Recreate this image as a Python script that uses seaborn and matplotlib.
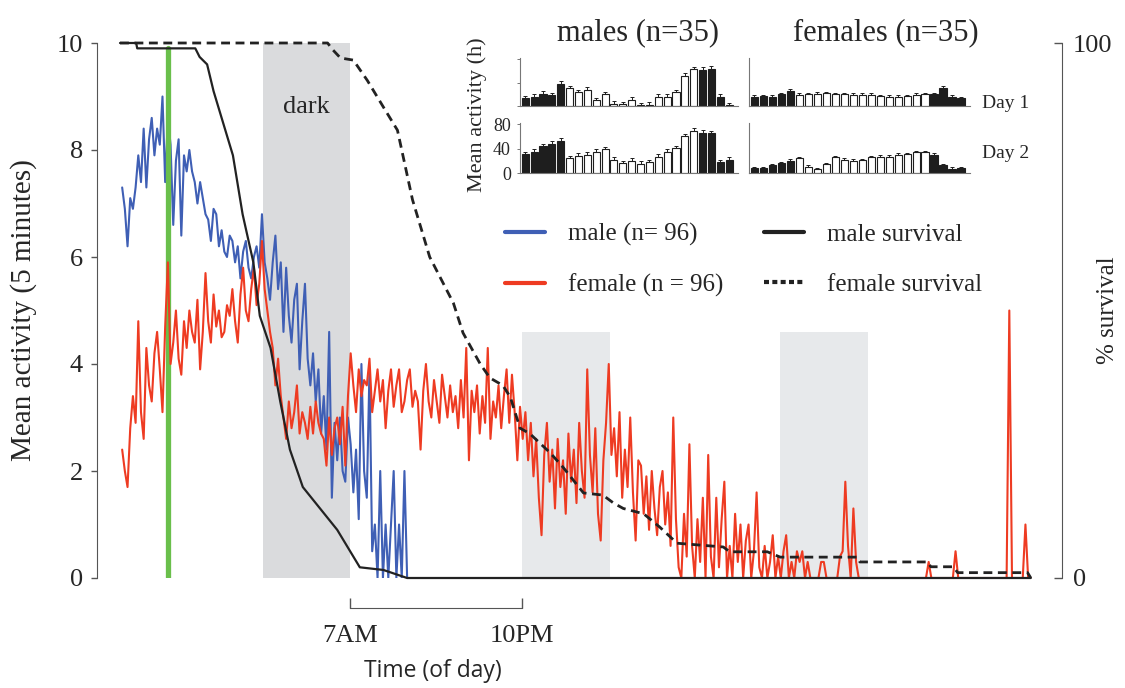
import numpy as np
import pandas as pd
import seaborn as sns
import matplotlib.pyplot as plt
from matplotlib.lines import Line2D

# ---- data ----
# mean activity per 5-min bin, one reading every 15 min, hours since start
start_h = 0.2
step_h = 0.25

male_activity = [
    7.3, 6.9, 6.2, 7.1, 6.9, 7.3, 7.9, 7.4, 8.4, 7.3,
    8.2, 8.6, 7.9, 8.4, 8.1, 9.0, 7.4, 8.6, 8.1, 6.6,
    7.8, 8.2, 6.4, 7.9, 7.6, 8.0, 7.6, 7.4, 7.0, 7.4,
    7.1, 6.8, 6.7, 6.3, 6.9, 6.8, 6.2, 6.5, 6.1, 6.0,
    6.4, 6.3, 5.9, 6.2, 5.6, 6.1, 6.3, 5.8, 5.6, 6.0,
    6.2, 5.8, 6.8, 5.9, 5.6, 5.2, 5.9, 6.4, 5.4, 5.9,
    4.6, 5.8, 4.9, 4.4, 5.2, 5.5, 3.9, 4.8, 5.5, 4.1,
    3.6, 4.2, 3.3, 3.9, 2.7, 3.4, 2.4, 4.6, 1.5, 2.9,
    2.2, 3.0, 2.0, 1.8, 3.0, 2.5, 1.6, 2.4, 1.1, 4.0,
    2.0, 1.5, 3.9, 0.5, 1.0, 0.0, 2.0, 0.0, 1.0, 0.0,
    1.0, 2.0, 0.0, 1.0, 0.0, 2.0, 0.0,
]

female_activity = [
    2.4, 2.0, 1.7, 2.8, 3.4, 2.9, 4.8, 3.1, 2.6, 4.3,
    3.6, 3.3, 4.2, 4.6, 3.9, 3.1, 4.7, 5.9, 4.0, 4.4,
    5.0, 4.1, 3.8, 4.8, 4.3, 5.0, 4.6, 4.4, 5.2, 3.9,
    4.6, 5.7, 4.8, 4.4, 5.3, 4.7, 5.0, 4.5, 4.6, 5.1,
    4.9, 5.4, 4.8, 4.4, 5.3, 5.8, 5.0, 4.8, 5.4, 5.8,
    5.1, 5.5, 6.3, 5.4, 5.0, 4.6, 4.3, 3.6, 4.1, 3.4,
    3.0, 2.6, 3.3, 2.8, 3.1, 3.6, 2.7, 3.1, 2.9, 2.6,
    3.2, 2.7, 3.3, 2.9, 2.7, 2.6, 2.1, 3.0, 2.3, 2.8,
    3.0, 2.5, 3.2, 2.1, 3.4, 4.2, 3.6, 3.1, 3.9, 3.4,
    3.7, 3.6, 4.1, 3.1, 3.5, 3.9, 3.3, 3.7, 2.8, 3.5,
    3.9, 3.2, 3.6, 3.9, 3.1, 3.3, 3.7, 3.9, 3.2, 3.5,
    3.3, 2.4, 3.5, 4.0, 3.3, 3.0, 3.7, 3.3, 2.9, 3.8,
    3.4, 3.0, 3.6, 3.1, 3.4, 2.8, 3.7, 3.0, 4.3, 2.2,
    3.5, 3.1, 3.6, 2.7, 3.4, 2.9, 4.3, 2.6, 3.3, 3.0,
    3.6, 2.8, 3.4, 3.9, 2.9, 3.8, 3.1, 2.2, 3.2, 2.6,
    3.1, 2.2, 2.9, 1.9, 2.6, 1.5, 0.8, 2.3, 2.9, 1.8,
    2.4, 1.3, 2.6, 1.7, 2.2, 1.2, 2.7, 1.8, 2.4, 1.4,
    2.9, 2.0, 1.5, 3.9, 2.3, 1.6, 2.8, 1.2, 0.7, 2.2,
    2.9, 4.0, 2.3, 2.8, 1.9, 3.1, 1.5, 2.4, 1.7, 3.0,
    1.6, 0.7, 2.2, 2.1, 1.2, 1.9, 0.9, 2.0, 1.3, 0.8,
    1.7, 2.0, 1.0, 1.6, 0.6, 3.0, 1.1, 0.2, 0.0, 1.2,
    0.4, 2.5, 0.6, 0.0, 1.1, 0.3, 1.5, 0.0, 2.3, 0.4,
    0.0, 1.5, 0.2, 1.1, 1.8, 0.0, 0.6, 0.0, 1.2, 0.3,
    1.0, 0.0, 0.7, 1.0, 0.0, 0.5, 1.6, 0.2, 0.0, 0.6,
    0.0, 0.3, 0.8, 0.0, 0.4, 0.0, 0.5, 0.8, 0.0, 0.3,
    0.0, 0.5, 0.3, 0.5, 0.0, 0.3, 0.0, 0.0, 0.0, 0.0,
    0.3, 0.3, 0.0, 0.0, 0.0, 0.0, 0.0, 0.4, 0.5, 1.8,
    0.6, 0.0, 1.3, 0.3, 0.0, 0.0, 0.0, 0.0, 0.0, 0.0,
    0.0, 0.0, 0.0, 0.0, 0.0, 0.0, 0.0, 0.0, 0.0, 0.0,
    0.0, 0.0, 0.0, 0.0, 0.0, 0.0, 0.0, 0.0, 0.0, 0.0,
    0.3, 0.0, 0.0, 0.0, 0.0, 0.0, 0.0, 0.0, 0.0, 0.0,
    0.5, 0.0, 0.0, 0.0, 0.0, 0.0, 0.0, 0.0, 0.0, 0.0,
    0.0, 0.0, 0.0, 0.0, 0.0, 0.0, 0.0, 0.0, 0.0, 0.0,
    5.0, 0.0, 0.0, 0.0, 0.0, 0.0, 1.0, 0.0, 0.0,
]

male_surv_h = [0.0, 1.5, 1.6, 7.0, 7.4, 8.1, 8.7, 9.3, 10.5, 11.4, 12.4, 13.0,
               14.0, 14.9, 15.8, 17.0, 18.6, 20.2, 21.4, 22.3, 24.5, 26.7, 84.7]
male_surv_pct = [100, 100, 99, 99, 97.4, 96, 91, 87, 79, 68, 59, 49,
                 43, 33, 24, 17, 13, 9, 5, 2, 1.5, 0, 0]

female_surv_h = [0.0, 19.3, 19.8, 20.5, 21.7, 23.0, 24.5, 25.8, 27.2, 28.8,
                 31.0, 31.9, 33.5, 34.4, 35.6, 36.3, 37.2, 38.1, 40.0, 41.2,
                 43.1, 44.9, 45.9, 46.8, 48.7, 50.2, 51.8, 56.1, 56.7, 60.2,
                 61.4, 68.6, 68.8, 75.1, 75.4, 77.5, 77.9, 84.4, 84.7]
female_surv_pct = [100, 100, 98.7, 97.2, 96.8, 93, 88, 83.7, 70.7, 60,
                   51.4, 45.8, 40, 37.4, 36, 33.8, 28, 27, 23.4, 20.7,
                   15.9, 15.5, 14, 13, 12, 9.5, 6.5, 5.8, 4.9, 4.9,
                   3.9, 3.9, 3.0, 3.0, 2.1, 2.1, 1.0, 1.0, 0]

dark_start_h = [13.3, 37.4, 61.4]
dark_end_h = [21.4, 45.6, 69.6]
dark_shade_top = [10, 4.6, 4.6]
green_mark_h = 4.5
clock_tick_h = [21.4, 37.4]
clock_tick_labels = ["7AM", "10PM"]

# inset: hourly mean activity (h), n=35 per sex
hour_phase = ["dark", "dark", "dark", "dark", "dark",
              "light", "light", "light", "light", "light",
              "light", "light", "light", "light", "light",
              "light", "light", "light", "light", "light",
              "dark", "dark", "dark", "dark"]
males_day1 = [13, 16, 21, 18, 38, 30, 24, 28, 10, 20, 4, 3, 11, 1, 2, 16,
              16, 24, 52, 63, 62, 64, 16, 1]
males_day2 = [31, 35, 44, 48, 53, 24, 28, 30, 35, 39, 22, 16, 20, 15, 18, 27,
              35, 41, 60, 69, 66, 65, 18, 22]
females_day1 = [16, 17, 16, 20, 26, 19, 20, 21, 22, 20, 20, 19, 19, 19, 17, 16,
                16, 17, 19, 20, 20, 31, 16, 13]
females_day2 = [8, 8, 13, 16, 20, 24, 10, 6, 14, 26, 22, 20, 21, 26, 27, 27,
                30, 31, 34, 34, 30, 13, 7, 8]
males_sem = 4
females_sem = 2.5

# ---- style ----
sns.set_style("ticks")
plt.rcParams["font.family"] = ["Liberation Serif", "DejaVu Serif"]

BLUE = "#3f5fb5"
RED = "#ee3b22"
GREEN = "#6abf4b"
INK = "#222222"
SPINE = "#555555"
W, H = 1125, 688


def fig_rect(left, top, right, bottom):
    return [left / W, 1 - bottom / H, (right - left) / W, (bottom - top) / H]


male_t = start_h + step_h * np.arange(len(male_activity))
female_t = start_h + step_h * np.arange(len(female_activity))
df_male = pd.DataFrame({"hours": male_t, "activity": male_activity})
df_female = pd.DataFrame({"hours": female_t, "activity": female_activity})

fig = plt.figure(figsize=(W / 100, H / 100), dpi=100)
ax = fig.add_axes(fig_rect(97, 43, 1062, 578))

# dark periods
shade_colors = ["#dadbdd", "#e7e9eb", "#e7e9eb"]
for s, e, top, c in zip(dark_start_h, dark_end_h, dark_shade_top, shade_colors):
    ax.axvspan(s, e, ymax=top / 10, color=c, lw=0, zorder=0)
ax.text((dark_start_h[0] + dark_end_h[0]) / 2, 8.8, "dark", ha="center",
        va="center", size=19)

sns.lineplot(data=df_male, x="hours", y="activity", color=BLUE, lw=1.5,
             legend=False, ax=ax, zorder=2)
ax.axvline(green_mark_h, ymin=0, ymax=0.99, color=GREEN, lw=3.8, zorder=2.5)
sns.lineplot(data=df_female, x="hours", y="activity", color=RED, lw=1.5,
             legend=False, ax=ax, zorder=3)

# survival on the right axis
ax2 = ax.twinx()
sns.lineplot(x=male_surv_h, y=male_surv_pct, color=INK, lw=1.6, ax=ax2,
             clip_on=False)
sns.lineplot(x=female_surv_h, y=female_surv_pct, color=INK, lw=2.0,
             linestyle=(0, (3.2, 2.0)), ax=ax2, clip_on=False)

ax.set_xlim(-2.14, 87.6)
ax.set_ylim(0, 10)
ax2.set_ylim(0, 100)

# left axis
ax.set_yticks(range(0, 11, 2))
ax.tick_params(axis="y", direction="out", length=4, width=1, pad=6,
               labelsize=19, color=SPINE)
ax.set_ylabel("Mean activity (5 minutes)", size=21)
ax.yaxis.set_label_coords(-0.062, 0.5)

# bottom bracket 7AM - 10PM
ax.spines["top"].set_visible(False)
ax.spines["right"].set_visible(False)
ax.spines["left"].set_color(SPINE)
ax.spines["bottom"].set_color(SPINE)
ax.spines["bottom"].set_position(("outward", 21.6))
ax.spines["bottom"].set_bounds(clock_tick_h[0], clock_tick_h[1])
ax.set_xticks(clock_tick_h)
ax.set_xticklabels(clock_tick_labels)
ax.tick_params(axis="x", direction="in", length=7.2, width=1, pad=12,
               labelsize=19, color=SPINE)
ax.set_xlabel("Time (of day)", size=16.5, family=["Open Sans", "DejaVu Sans"])
ax.xaxis.set_label_coords(0.348, -0.152)

# right axis
for side in ["top", "left", "bottom"]:
    ax2.spines[side].set_visible(False)
ax2.spines["right"].set_color(SPINE)
ax2.set_yticks([0, 100])
ax2.tick_params(axis="y", direction="in", length=6, width=1, pad=8,
                labelsize=19, color=SPINE)
ax2.set_ylabel("% survival", size=18)
ax2.yaxis.set_label_coords(1.036, 0.5)

# legend
handles = [
    Line2D([], [], color=BLUE, lw=3),
    Line2D([], [], color=RED, lw=3),
    Line2D([], [], color=INK, lw=3),
    Line2D([], [], color=INK, lw=3, linestyle=(0, (1.2, 0.8))),
]
labels = ["male (n= 96)", "female (n = 96)", "male survival", "female survival"]
fig.legend(handles, labels, loc="upper left", bbox_to_anchor=(505 / W, 1 - 223 / H),
           ncol=2, frameon=False, fontsize=18, handlelength=1.6,
           handletextpad=0.9, columnspacing=1.65, labelspacing=1.1,
           borderpad=0, borderaxespad=0)

# inset bar charts
phase_colors = {"dark": "#1e1e1e", "light": "white"}
hours_idx = np.arange(24)
panels = [
    (males_day1, males_sem, fig_rect(520, 58, 738, 106)),
    (females_day1, females_sem, fig_rect(749, 58, 970, 106)),
    (males_day2, males_sem, fig_rect(520, 123, 738, 173)),
    (females_day2, females_sem, fig_rect(749, 123, 970, 173)),
]
insets = []
for vals, sem, rect in panels:
    a = fig.add_axes(rect)
    a.patch.set_alpha(0)
    sns.barplot(x=hours_idx, y=vals, hue=hour_phase, palette=phase_colors,
                dodge=False, edgecolor="#1e1e1e", linewidth=0.8, width=0.8,
                legend=False, ax=a)
    a.errorbar(hours_idx, vals, yerr=[np.zeros(24), np.full(24, sem)],
               fmt="none", ecolor="#1e1e1e", elinewidth=0.7, capsize=1.5,
               capthick=0.7)
    a.set_xlim(-0.6, 24.0)
    a.set_ylim(0, 82)
    a.set_xticks([])
    a.set_xlabel("")
    a.set_ylabel("")
    for side in ["top", "right"]:
        a.spines[side].set_visible(False)
    for side in ["left", "bottom"]:
        a.spines[side].set_color("#777777")
        a.spines[side].set_linewidth(0.8)
    insets.append(a)

for a in insets:
    a.set_yticks([0, 40, 80])
    a.tick_params(axis="y", length=2.5, width=0.7, color="#777777", pad=4,
                  labelsize=13)
insets[0].set_yticklabels([])
insets[1].set_yticks([])
insets[3].set_yticks([])

insets[0].set_title("males (n=35)", size=22, pad=13, x=0.54)
insets[1].set_title("females (n=35)", size=22, pad=13, x=0.62)
insets[1].text(1.054, 0.06, "Day 1", transform=insets[1].transAxes,
               ha="left", va="center", size=14)
insets[3].text(1.054, 0.38, "Day 2", transform=insets[3].transAxes,
               ha="left", va="center", size=14)
fig.text(477 / W, 1 - 115 / H, "Mean activity (h)", rotation=90, ha="center",
         va="center", size=16)

fig.savefig("out.png", dpi=100)
